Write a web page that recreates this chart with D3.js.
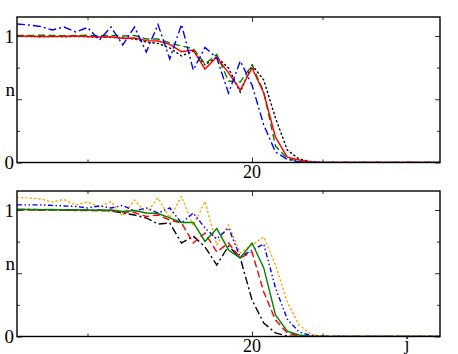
<!DOCTYPE html>
<html>
<head>
<meta charset="utf-8">
<script src="https://cdn.jsdelivr.net/npm/d3@7"></script>
<style>
  body { margin: 0; background: #fff; }
  svg text { font-family: "Liberation Serif", "DejaVu Serif", serif; }
</style>
</head>
<body>
<div id="chart"></div>
<script>
// site index j
const js = [0,1,2,3,4,5,6,7,8,9,10,11,12,13,14,15,16,17,18,19,20,21,22,23,24,25,26,27,28,29,30,31,32,33,34,35,36]

// upper panel
const blueTop  = [1.095,1.087,1.075,1.047,1.071,1.032,1.067,0.968,1.071,0.929,1.071,0.874,1.091,0.818,1.091,0.731,0.909,0.826,0.549,0.802,0.613,0.296,0.083,0.024,0.004,0,0,0,0,0,0,0,0,0,0,0,0]
const greenTop = [1.004,1.004,1.006,1.004,1.002,1.004,1.006,1.002,1.004,1.0,1.004,0.976,0.976,0.945,0.921,0.901,0.779,0.854,0.644,0.636,0.771,0.557,0.130,0.032,0.008,0,0,0,0,0,0,0,0,0,0,0,0]
const redTop   = [1.0,0.998,0.996,0.996,0.998,1.0,0.996,0.992,0.992,0.982,0.984,0.963,0.960,0.934,0.876,0.889,0.739,0.834,0.708,0.573,0.747,0.549,0.200,0.043,0.020,0.004,0,0,0,0,0,0,0,0,0,0,0]
const blackTop = [0.996,0.996,0.994,0.996,0.994,0.996,0.994,0.992,0.990,0.984,0.976,0.953,0.941,0.905,0.842,0.881,0.771,0.834,0.747,0.557,0.771,0.652,0.352,0.099,0.028,0.008,0,0,0,0,0,0,0,0,0,0,0]

// lower panel
const orangeBot = [1.099,1.095,1.087,1.063,1.083,1.040,1.063,1.024,1.067,0.953,1.079,0.976,1.095,0.937,1.107,0.874,1.067,0.723,0.881,0.660,0.723,0.787,0.565,0.273,0.091,0.020,0,0,0,0,0,0,0,0,0,0,0]
const blueBot   = [1.040,1.040,1.040,1.036,1.032,1.028,1.016,1.032,1.016,1.036,0.992,1.016,0.976,1.016,0.897,0.976,0.858,0.771,0.858,0.628,0.684,0.731,0.383,0.138,0.036,0.008,0,0,0,0,0,0,0,0,0,0,0]
const greenBot  = [1.004,1.004,1.002,1.004,1.0,1.002,1.0,0.998,1.0,0.988,0.996,0.976,0.972,0.937,0.901,0.901,0.751,0.854,0.684,0.621,0.739,0.542,0.170,0.043,0.012,0,0,0,0,0,0,0,0,0,0,0,0]
const redBot    = [1.0,1.0,0.998,1.0,0.998,0.996,0.996,0.994,0.992,0.984,0.980,0.949,0.960,0.921,0.897,0.739,0.818,0.668,0.739,0.621,0.668,0.352,0.130,0.028,0.004,0,0,0,0,0,0,0,0,0,0,0,0]
const blackBot  = [1.004,1.004,1.002,1.002,1.0,1.0,0.998,1.0,0.992,0.976,0.960,0.937,0.889,0.897,0.739,0.794,0.708,0.565,0.715,0.621,0.289,0.107,0.028,0.004,0,0,0,0,0,0,0,0,0,0,0,0,0]

const xMajor = [20]
const xMinor = [6, 26]
const yMajor = [0, 0.5, 1]
const yMinor = [0.25, 0.75]
const yLabels = [0, 1]

const W = 458, H = 354
const left = 17, right = 440
const serif = '"Liberation Serif", "DejaVu Serif", serif'

const svg = d3.select('#chart').append('svg')
  .attr('width', W)
  .attr('height', H)

const x = d3.scaleLinear().domain([0, 36]).range([left, right])

const panels = [
  {top: 17, bottom: 162.5, series: [
    {v: blackTop, color: '#000', dash: '1.2,3.2', cap: 'round'},
    {v: greenTop, color: '#008000', dash: '7,3.5'},
    {v: redTop, color: '#ff0000', dash: null},
    {v: blueTop, color: '#0000ff', dash: '8,3,2,3'}
  ], xlab: null},
  {top: 191, bottom: 336.5, series: [
    {v: orangeBot, color: '#ffa500', dash: '1.2,3.2', cap: 'round'},
    {v: blackBot, color: '#000', dash: '8,3,2,3'},
    {v: redBot, color: '#ff0000', dash: '7,3.5'},
    {v: blueBot, color: '#0000ff', dash: '5,2.5,1.5,2.5,1.5,2.5'},
    {v: greenBot, color: '#008000', dash: null}
  ], xlab: 'j'}
]

panels.forEach((p, pi) => {
  const y = d3.scaleLinear().domain([0, 1.15]).range([p.bottom, p.top])
  const g = svg.append('g')

  g.append('clipPath').attr('id', `clip${pi}`)
    .append('rect')
    .attr('x', left).attr('y', p.top)
    .attr('width', right - left).attr('height', p.bottom - p.top)

  const line = d3.line()
    .x((d, i) => x(js[i]))
    .y(d => y(d))

  const lines = g.append('g').attr('clip-path', `url(#clip${pi})`)
  p.series.forEach(s => {
    lines.append('path')
      .datum(s.v)
      .attr('d', line)
      .attr('fill', 'none')
      .attr('stroke', s.color)
      .attr('stroke-width', 1.4)
      .attr('stroke-linecap', s.cap || 'butt')
      .attr('stroke-dasharray', s.dash)
  })

  // inward ticks on all four sides
  const addAxis = (axis, tx, ty) => {
    const a = g.append('g').attr('transform', `translate(${tx},${ty})`).call(axis)
    a.select('.domain').remove()
    a.selectAll('text').remove()
    a.selectAll('line').attr('stroke', '#333').attr('stroke-width', 1)
  }
  addAxis(d3.axisBottom(x).tickValues(xMajor).tickSize(-5), 0, p.bottom)
  addAxis(d3.axisBottom(x).tickValues(xMinor).tickSize(-3), 0, p.bottom)
  addAxis(d3.axisTop(x).tickValues(xMajor).tickSize(-5), 0, p.top)
  addAxis(d3.axisTop(x).tickValues(xMinor).tickSize(-3), 0, p.top)
  addAxis(d3.axisLeft(y).tickValues(yMajor).tickSize(-5), left, 0)
  addAxis(d3.axisLeft(y).tickValues(yMinor).tickSize(-3), left, 0)
  addAxis(d3.axisRight(y).tickValues(yMajor).tickSize(-5), right, 0)
  addAxis(d3.axisRight(y).tickValues(yMinor).tickSize(-3), right, 0)

  g.append('rect')
    .attr('x', left).attr('y', p.top)
    .attr('width', right - left).attr('height', p.bottom - p.top)
    .attr('fill', 'none')
    .attr('stroke', '#000')
    .attr('stroke-width', 1.4)

  g.selectAll('.ylab').data(yLabels).enter().append('text')
    .attr('x', 14)
    .attr('y', d => y(d))
    .attr('dy', '0.35em')
    .attr('text-anchor', 'end')
    .attr('font-family', serif)
    .attr('font-size', 19)
    .text(d => d)

  g.append('text')
    .attr('x', 15)
    .attr('y', y(0.57))
    .attr('dy', '0.3em')
    .attr('text-anchor', 'end')
    .attr('font-family', serif)
    .attr('font-size', 19)
    .text('n')

  g.selectAll('.xlab').data(xMajor).enter().append('text')
    .attr('x', d => x(d))
    .attr('y', p.bottom + 15)
    .attr('text-anchor', 'middle')
    .attr('font-family', serif)
    .attr('font-size', 18)
    .text(d => d)

  if (p.xlab) {
    g.append('text')
      .attr('x', 407)
      .attr('y', p.bottom + 13)
      .attr('text-anchor', 'middle')
      .attr('font-family', serif)
      .attr('font-size', 18)
      .text(p.xlab)
  }
})
</script>
</body>
</html>
